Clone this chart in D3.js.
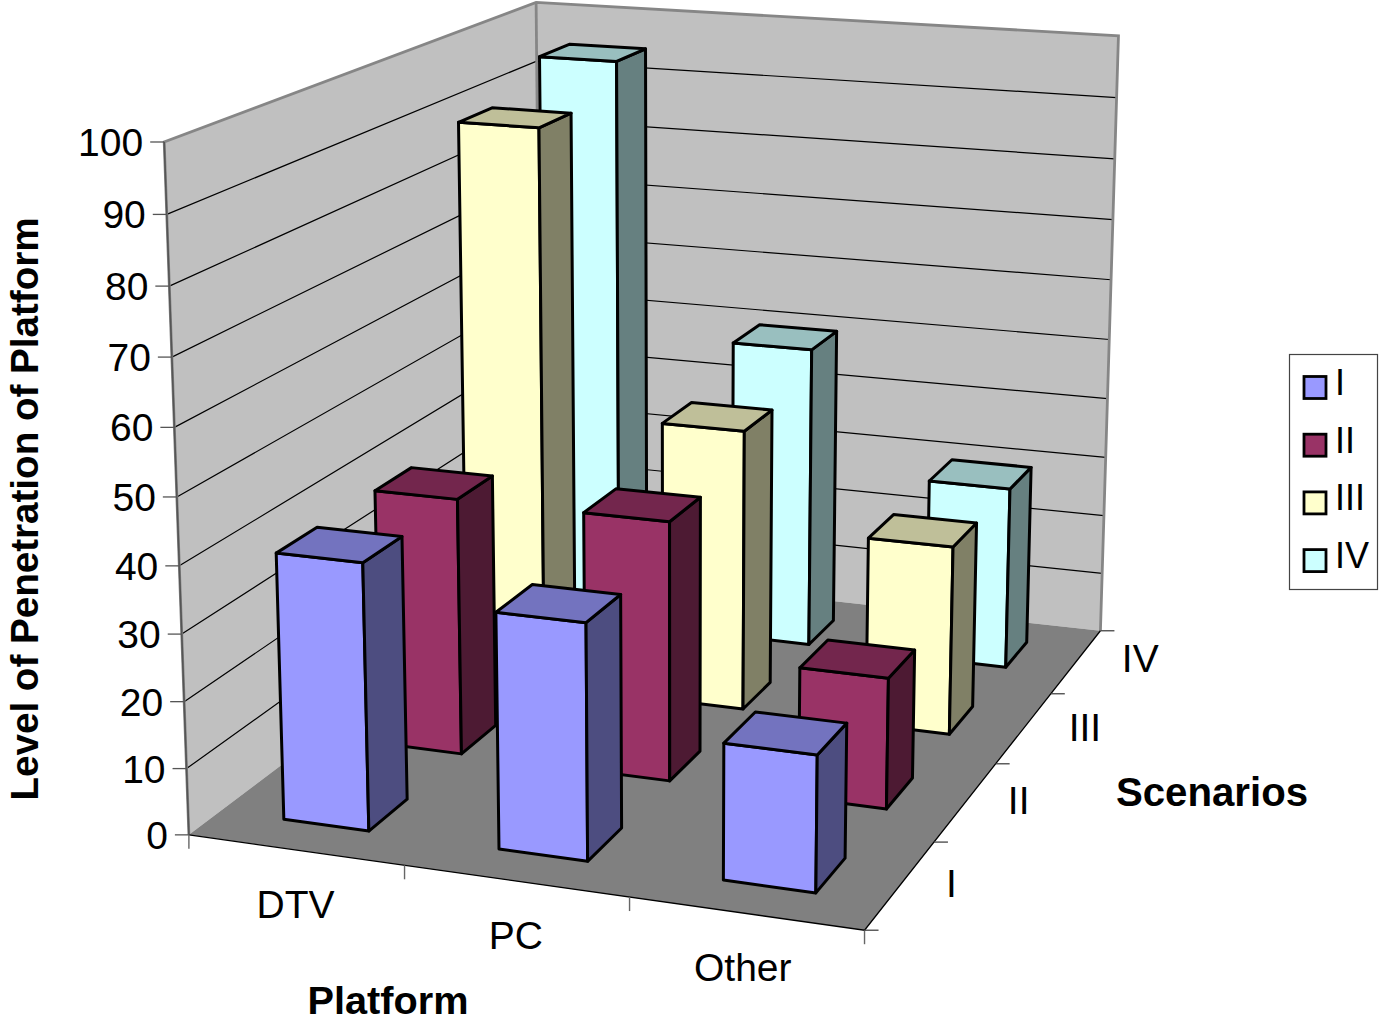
<!DOCTYPE html>
<html>
<head>
<meta charset="utf-8">
<script src="https://cdn.jsdelivr.net/npm/d3@7"></script>
<style>
html,body{margin:0;padding:0;background:#fff}
svg{display:block}
text{font-family:"Liberation Sans",Arial,sans-serif;fill:#000}
</style>
</head>
<body>
<svg id="chart" width="1379" height="1016"></svg>
<script>
// Chart content
const platforms = ["DTV", "PC", "Other"];
const scenarios = ["I", "II", "III", "IV"];
const valueTicks = [0, 10, 20, 30, 40, 50, 60, 70, 80, 90, 100];
const scenarioI = [40, 35, 20];
const scenarioII = [40, 40, 20];
const scenarioIII = [90, 45, 30];
const scenarioIV = [95, 50, 30];
const seriesValues = [scenarioI, scenarioII, scenarioIII, scenarioIV];
const seriesColors = ["#9999FF", "#993366", "#FFFFCC", "#CCFFFF"];

// Camera: the box corners (unit x, y, z) and where they land on the page.
const boxCorners = [
  [0,0,0,191,836],[1,0,0,863.5,930],[1,0,1,1101.7,630.7],[0,0,1,539.5,568],
  [0,1,0,163,141],[0,1,1,537.5,3],[1,1,1,1118,36]
];

function solve(A, b) {
  const n = b.length, M = A.map((r, i) => [...r, b[i]]);
  for (let c = 0; c < n; c++) {
    let p = c;
    for (let r = c + 1; r < n; r++) if (Math.abs(M[r][c]) > Math.abs(M[p][c])) p = r;
    [M[c], M[p]] = [M[p], M[c]];
    for (let r = 0; r < n; r++) {
      if (r === c) continue;
      const f = M[r][c] / M[c][c];
      for (let k = c; k <= n; k++) M[r][k] -= f * M[c][k];
    }
  }
  return M.map((r, i) => r[n] / r[i]);
}

function fitCamera(pts) {
  const rows = [], rhs = [];
  pts.forEach(([x, y, z, u, v]) => {
    rows.push([x, y, z, 1, 0, 0, 0, 0, -u*x, -u*y, -u*z]); rhs.push(u);
    rows.push([0, 0, 0, 0, x, y, z, 1, -v*x, -v*y, -v*z]); rhs.push(v);
  });
  const AtA = d3.range(11).map(i => d3.range(11).map(j => d3.sum(rows, r => r[i] * r[j])));
  const Atb = d3.range(11).map(i => d3.sum(rows, (r, k) => r[i] * rhs[k]));
  return solve(AtA, Atb);
}

const cam = fitCamera(boxCorners);
const project = (x, y, z) => {
  const w = cam[8]*x + cam[9]*y + cam[10]*z + 1;
  return [(cam[0]*x + cam[1]*y + cam[2]*z + cam[3]) / w,
          (cam[4]*x + cam[5]*y + cam[6]*z + cam[7]) / w];
};

// Scales into the unit box
const xBand = d3.scaleBand().domain(platforms).range([0, 1]).paddingInner(0.6).paddingOuter(0.3);
const zBand = d3.scaleBand().domain(scenarios).range([0, 1]).paddingInner(0.6).paddingOuter(0.3);
const yScale = d3.scaleLinear().domain([0, 100]).range([0, 1]);
const xEdge = d3.scaleLinear().domain([0, platforms.length]).range([0, 1]);
const zEdge = d3.scaleLinear().domain([0, scenarios.length]).range([0, 1]);

const svg = d3.select("#chart");
const pathOf = pts => "M" + pts.map(p => p.map(c => c.toFixed(2)).join(",")).join("L") + "Z";
const lineOf = (a, b) => "M" + a.map(c => c.toFixed(2)).join(",") + "L" + b.map(c => c.toFixed(2)).join(",");

// Walls and floor
const walls = svg.append("g");
walls.append("path").attr("d", pathOf([project(0,0,0), project(0,1,0), project(0,1,1), project(0,0,1)])).attr("fill", "#C0C0C0");
walls.append("path").attr("d", pathOf([project(0,0,1), project(0,1,1), project(1,1,1), project(1,0,1)])).attr("fill", "#C0C0C0");
walls.append("path").attr("d", pathOf([project(0,0,0), project(1,0,0), project(1,0,1), project(0,0,1)])).attr("fill", "#808080");

// Gridlines run along the left wall and then across the back wall
walls.selectAll("path.grid").data(valueTicks.slice(1, -1)).join("path")
  .attr("class", "grid")
  .attr("d", d => {
    const y = yScale(d), a = project(0,y,0), b = project(0,y,1), c = project(1,y,1);
    return `M${a}L${b}L${c}`;
  })
  .attr("fill", "none").attr("stroke", "#000").attr("stroke-width", 1.2);

// Wall outlines
walls.append("path")
  .attr("d", `M${project(0,0,0)}L${project(0,1,0)}L${project(0,1,1)}L${project(1,1,1)}L${project(1,0,1)}`)
  .attr("fill", "none").attr("stroke", "#868686").attr("stroke-width", 2.8);
walls.append("path").attr("d", lineOf(project(0,1,1), project(0,0,1)))
  .attr("fill", "none").attr("stroke", "#868686").attr("stroke-width", 2.8);

// Floor front and side edges
walls.append("path")
  .attr("d", `M${project(0,0,0)}L${project(1,0,0)}L${project(1,0,1)}`)
  .attr("fill", "none").attr("stroke", "#000").attr("stroke-width", 1.3);

// Axes: value
const axes = svg.append("g");
axes.selectAll("path.vtick").data(valueTicks).join("path").attr("class", "vtick")
  .attr("d", d => { const p = project(0, yScale(d), 0); return `M${p[0]-14},${p[1]}L${p[0]},${p[1]}`; })
  .attr("stroke", "#555").attr("stroke-width", 1.3);
axes.append("path").attr("d", lineOf(project(0,0,0), project(0,1,0))).attr("stroke", "#555").attr("stroke-width", 1.6);
axes.selectAll("text.vlabel").data(valueTicks).join("text").attr("class", "vlabel")
  .attr("x", d => project(0, yScale(d), 0)[0] - 21)
  .attr("y", d => project(0, yScale(d), 0)[1] + 14)
  .attr("text-anchor", "end").attr("font-size", 39)
  .text(d => d);

// Axes: platform ticks and names
axes.selectAll("path.xtick").data(d3.range(platforms.length + 1)).join("path").attr("class", "xtick")
  .attr("d", i => { const p = project(xEdge(i), 0, 0); return `M${p[0]},${p[1]}L${p[0]},${p[1]+14}`; })
  .attr("stroke", "#666").attr("stroke-width", 1.4);
const platformNudge = [0, 0, -3];
axes.selectAll("text.xlabel").data(platforms).join("text").attr("class", "xlabel")
  .attr("x", (d, i) => project(xEdge(i + .5), 0, 0)[0] + platformNudge[i])
  .attr("y", (d, i) => project(xEdge(i + .5), 0, 0)[1] + 68)
  .attr("text-anchor", "middle").attr("font-size", 39).text(d => d);

// Axes: scenario ticks and names
axes.selectAll("path.ztick").data(d3.range(scenarios.length + 1)).join("path").attr("class", "ztick")
  .attr("d", i => { const p = project(1, 0, zEdge(i)); return `M${p[0]},${p[1]}L${p[0]+14},${p[1]}`; })
  .attr("stroke", "#444").attr("stroke-width", 1.3);
const scenarioNudge = [[51, 12], [53, 12], [61, 13], [64, 11]];
axes.selectAll("text.zlabel").data(scenarios).join("text").attr("class", "zlabel")
  .attr("x", (d, i) => project(1, 0, zEdge(i + .5))[0] + scenarioNudge[i][0])
  .attr("y", (d, i) => project(1, 0, zEdge(i + .5))[1] + scenarioNudge[i][1])
  .attr("text-anchor", "middle").attr("font-size", 39).text(d => d);

// Bars are painted from the back row forward, left to right inside a row
const barLayer = svg.append("g");
const bars = [];
d3.range(scenarios.length - 1, -1, -1).forEach(s => {
  platforms.forEach((name, p) => bars.push({ s, p, name, value: seriesValues[s][p] }));
});
const shade = (hex, k) => { const c = d3.rgb(hex); return d3.rgb(c.r*k, c.g*k, c.b*k).formatHex(); };
const bar = barLayer.selectAll("g").data(bars).join("g")
  .attr("stroke", "#000").attr("stroke-width", 3).attr("stroke-linejoin", "round");
const corners = d => {
  const x0 = xBand(d.name), x1 = x0 + xBand.bandwidth();
  const z0 = zBand(scenarios[d.s]), z1 = z0 + zBand.bandwidth();
  return { x0, x1, z0, z1, h: yScale(d.value) };
};
bar.append("path").attr("d", d => { const c = corners(d);
    return pathOf([project(c.x0,0,c.z0), project(c.x1,0,c.z0), project(c.x1,c.h,c.z0), project(c.x0,c.h,c.z0)]); })
  .attr("fill", d => seriesColors[d.s]);
bar.append("path").attr("d", d => { const c = corners(d);
    return pathOf([project(c.x1,0,c.z0), project(c.x1,0,c.z1), project(c.x1,c.h,c.z1), project(c.x1,c.h,c.z0)]); })
  .attr("fill", d => shade(seriesColors[d.s], 0.5));
bar.append("path").attr("d", d => { const c = corners(d);
    return pathOf([project(c.x0,c.h,c.z0), project(c.x1,c.h,c.z0), project(c.x1,c.h,c.z1), project(c.x0,c.h,c.z1)]); })
  .attr("fill", d => shade(seriesColors[d.s], 0.75));

// Axis titles
svg.append("text").attr("transform", "translate(38,509) rotate(-90)")
  .attr("text-anchor", "middle").attr("font-size", 38.6).attr("font-weight", "bold")
  .text("Level of Penetration of Platform");
svg.append("text").attr("x", 388).attr("y", 1014)
  .attr("text-anchor", "middle").attr("font-size", 39.7).attr("font-weight", "bold").text("Platform");
svg.append("text").attr("x", 1212).attr("y", 806)
  .attr("text-anchor", "middle").attr("font-size", 40.2).attr("font-weight", "bold").text("Scenarios");

// Legend
const legend = svg.append("g");
legend.append("rect").attr("x", 1289.5).attr("y", 354.5).attr("width", 88).attr("height", 235)
  .attr("fill", "#fff").attr("stroke", "#444").attr("stroke-width", 1.2);
const entry = legend.selectAll("g").data(scenarios).join("g")
  .attr("transform", (d, i) => `translate(0,${i * 57.7})`);
entry.append("rect").attr("x", 1304).attr("y", 376.5).attr("width", 22).attr("height", 22)
  .attr("fill", (d, i) => seriesColors[i]).attr("stroke", "#000").attr("stroke-width", 2.8);
entry.append("text").attr("x", 1335).attr("y", 395).attr("font-size", 36).text(d => d);
</script>
</body>
</html>
